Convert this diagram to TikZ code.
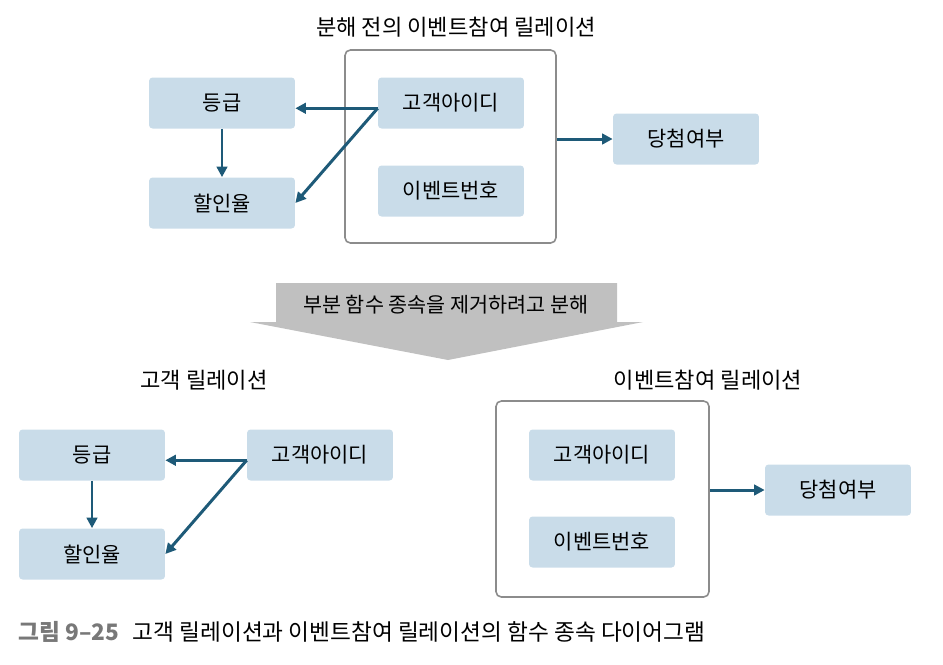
\documentclass[tikz,border=0pt]{standalone}
\usepackage{fontspec}
\setmainfont{Noto Sans CJK KR}
\usetikzlibrary{arrows.meta}
\definecolor{attrfill}{RGB}{201,220,233}
\definecolor{deparrow}{RGB}{30,90,120}
\definecolor{relline}{RGB}{140,140,140}
\definecolor{bigarrow}{RGB}{192,192,192}
\definecolor{captiongray}{RGB}{120,120,120}
\begin{document}
\begin{tikzpicture}[x=0.02cm, y=-0.02cm,
  attr/.style={fill=attrfill, rounded corners=2pt, minimum width=2.92cm, minimum height=1.02cm, font=\fontsize{11.9}{13}\selectfont, inner sep=0pt},
  rel/.style={draw=relline, line width=0.9pt, rounded corners=3pt, inner sep=0pt},
  dep/.style={draw=deparrow, line width=1.7pt, -{Triangle[length=6pt, width=6pt]}},
  title/.style={font=\fontsize{12.6}{14}\selectfont}]
\useasboundingbox (0,0) rectangle (943,664);
% before decomposition
\node[title] (ttop) at (456,27) {분해 전의 이벤트참여 릴레이션};
\node[rel, minimum width=4.22cm, minimum height=3.86cm] (evtop) at (450.5,146.5) {};
\node[attr] (grade0) at (222,103) {등급};
\node[attr] (rate0) at (222,203) {할인율};
\node[attr] (cid0) at (451,103) {고객아이디};
\node[attr] (eno0) at (451,191) {이벤트번호};
\node[attr] (win0) at (686,139) {당첨여부};
\coordinate (cidw0) at ([yshift=-3pt]cid0.west);
\draw[dep] (cidw0) -- (grade0.east |- cidw0);
\draw[dep] (cidw0) -- (rate0.east);
\draw[dep] (grade0) -- (rate0);
\draw[dep] (evtop.east |- win0.west) -- (win0.west);
% decomposition arrow
\fill[bigarrow] (276,283) -- (617,283) -- (617,322) -- (643,322) -- (448,360) -- (250,322) -- (276,322) -- cycle;
\node[font=\fontsize{11.8}{13}\selectfont] (split) at (446,305) {부분 함수 종속을 제거하려고 분해};
% customer relation
\node[title] (tcust) at (204,380) {고객 릴레이션};
\node[attr] (grade1) at (92,455) {등급};
\node[attr] (rate1) at (92,554) {할인율};
\node[attr] (cid1) at (320,455) {고객아이디};
\coordinate (cidw1) at ([yshift=-3pt]cid1.west);
\draw[dep] (cidw1) -- (grade1.east |- cidw1);
\draw[dep] (cidw1) -- (rate1.east);
\draw[dep] (grade1) -- (rate1);
% event participation relation
\node[title] (tev) at (708,380) {이벤트참여 릴레이션};
\node[rel, minimum width=4.26cm, minimum height=3.92cm] (evbot) at (602.5,499) {};
\node[attr] (cid2) at (602,455) {고객아이디};
\node[attr] (eno2) at (602,542) {이벤트번호};
\node[attr] (win2) at (838,490) {당첨여부};
\draw[dep] (evbot.east |- win2.west) -- (win2.west);
% caption
\node[anchor=west, font=\fontsize{12.9}{14}\selectfont, inner sep=0pt] (cap) at (18,632) {{\bfseries\color{captiongray}그림 9–25}\hspace{0.6em}고객 릴레이션과 이벤트참여 릴레이션의 함수 종속 다이어그램};
\end{tikzpicture}
\end{document}
